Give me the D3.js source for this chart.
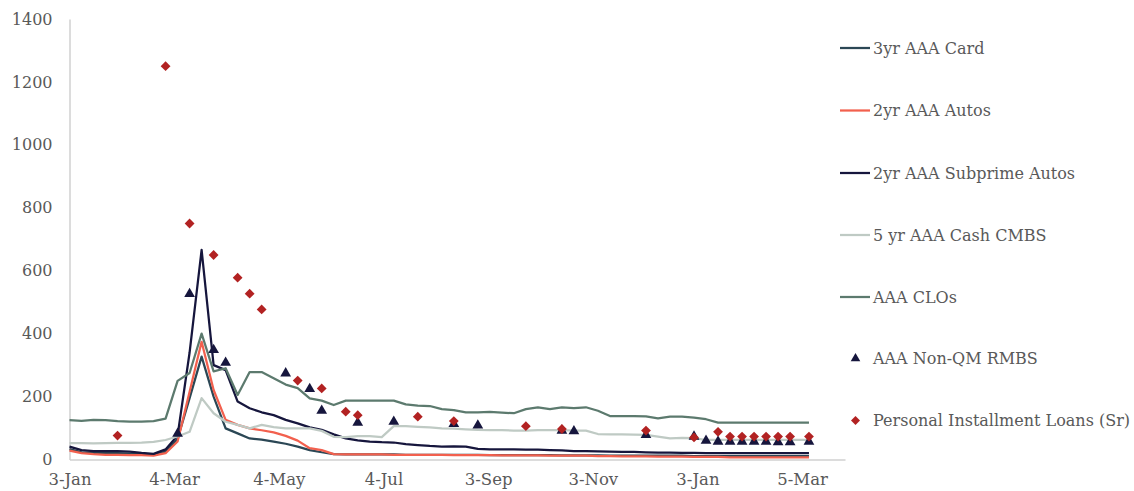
<!DOCTYPE html>
<html>
<head>
<meta charset="utf-8">
<script src="https://cdn.jsdelivr.net/npm/d3@7"></script>
<style>
  body { margin: 0; background: #fff; }
  text { font-family: 'DejaVu Serif', Georgia, serif; fill: #595959; }
</style>
</head>
<body>
<div id="chart"></div>
<script>
// weekly observation dates for the line series
var lineDates = [
  '2020-01-03', '2020-01-10', '2020-01-17', '2020-01-24', '2020-01-31', '2020-02-07',
  '2020-02-14', '2020-02-21', '2020-02-28', '2020-03-06', '2020-03-13', '2020-03-20',
  '2020-03-27', '2020-04-03', '2020-04-10', '2020-04-17', '2020-04-24', '2020-05-01',
  '2020-05-08', '2020-05-15', '2020-05-22', '2020-05-29', '2020-06-05', '2020-06-12',
  '2020-06-19', '2020-06-26', '2020-07-03', '2020-07-10', '2020-07-17', '2020-07-24',
  '2020-07-31', '2020-08-07', '2020-08-14', '2020-08-21', '2020-08-28', '2020-09-04',
  '2020-09-11', '2020-09-18', '2020-09-25', '2020-10-02', '2020-10-09', '2020-10-16',
  '2020-10-23', '2020-10-30', '2020-11-06', '2020-11-13', '2020-11-20', '2020-11-27',
  '2020-12-04', '2020-12-11', '2020-12-18', '2020-12-25', '2021-01-01', '2021-01-08',
  '2021-01-15', '2021-01-22', '2021-01-29', '2021-02-05', '2021-02-12', '2021-02-19',
  '2021-02-26', '2021-03-09'
];

var card3yr = [
  33, 23, 21, 20, 20, 19, 18, 15, 25, 65, 195, 327, 200, 99, 83, 67, 63, 57, 50, 41,
  30, 23, 17, 16, 16, 16, 16, 16, 15, 15, 15, 15, 15, 15, 15, 14, 14, 14, 14, 14,
  14, 13, 13, 13, 13, 12, 12, 12, 12, 12, 12, 12, 11, 11, 11, 11, 11, 11, 11, 11,
  11, 11
];
var autos2yr = [
  28, 20, 17, 15, 15, 14, 14, 12, 20, 57, 215, 374, 221, 126, 110, 99, 93, 86, 75, 60,
  36, 30, 17, 16, 16, 16, 16, 15, 15, 15, 15, 15, 14, 14, 14, 14, 13, 13, 13, 13,
  12, 12, 12, 12, 11, 11, 10, 10, 10, 9, 9, 9, 8, 8, 8, 7, 7, 7, 7, 7,
  7, 7
];
var subprime2yr = [
  41, 30, 27, 27, 27, 25, 21, 18, 32, 76, 340, 666, 300, 284, 184, 163, 150, 141, 126, 115,
  102, 94, 80, 67, 61, 57, 55, 54, 49, 46, 43, 41, 42, 41, 34, 32, 32, 32, 31, 31,
  30, 29, 27, 27, 26, 25, 24, 24, 23, 22, 22, 21, 21, 20, 20, 20, 20, 20, 20, 20,
  20, 20
];
var cmbs5yr = [
  52, 52, 51, 52, 53, 53, 54, 56, 62, 73, 88, 195, 147, 120, 110, 99, 110, 103, 99, 99,
  99, 91, 72, 71, 74, 74, 71, 106, 106, 104, 102, 99, 98, 96, 94, 93, 93, 92, 92, 93,
  93, 93, 92, 92, 81, 80, 80, 79, 78, 73, 67, 69, 68, 62, 62, 62, 62, 62, 62, 62,
  62, 62
];
var clos = [
  125, 123, 126, 125, 122, 120, 120, 122, 130, 250, 275, 400, 280, 290, 205, 278, 278, 258, 238, 227,
  194, 187, 173, 187, 187, 187, 187, 187, 175, 171, 170, 160, 157, 150, 150, 151, 149, 147, 160, 166,
  160, 166, 163, 166, 155, 138, 138, 138, 137, 131, 136, 136, 133, 128, 117, 117, 117, 117, 117, 117,
  117, 117
];

// scatter series, own dates
var nonQmDates = [
  '2020-03-06', '2020-03-13', '2020-03-27', '2020-04-03', '2020-05-08', '2020-05-22',
  '2020-05-29', '2020-06-19', '2020-07-10', '2020-08-14', '2020-08-28', '2020-10-16',
  '2020-10-23', '2020-12-04', '2021-01-01', '2021-01-08', '2021-01-15', '2021-01-22',
  '2021-01-29', '2021-02-05', '2021-02-12', '2021-02-19', '2021-02-26', '2021-03-09'
];
var nonQmValues = [
  82, 526, 348, 308, 274, 224, 155, 117, 120, 113, 108, 92,
  90, 78, 73, 60, 57, 57, 57, 57, 57, 55, 55, 57
];
var pilDates = [
  '2020-01-31', '2020-02-28', '2020-03-13', '2020-03-27', '2020-04-10', '2020-04-17',
  '2020-04-24', '2020-05-15', '2020-05-29', '2020-06-12', '2020-06-19', '2020-07-24',
  '2020-08-14', '2020-09-25', '2020-10-16', '2020-12-04', '2021-01-01', '2021-01-15',
  '2021-01-22', '2021-01-29', '2021-02-05', '2021-02-12', '2021-02-19', '2021-02-26',
  '2021-03-09'
];
var pilValues = [
  76, 1250, 750, 650, 578, 527, 477, 251, 226, 152, 141, 136,
  122, 106, 97, 92, 70, 88, 73, 73, 73, 73, 73, 73, 73
];

var xTickDates = ['2020-01-03', '2020-03-04', '2020-05-04', '2020-07-04',
  '2020-09-03', '2020-11-03', '2021-01-03', '2021-03-05'];
var yTicks = [0, 200, 400, 600, 800, 1000, 1200, 1400];

var lineSeries = [
  { name: '3yr AAA Card', values: card3yr, color: '#2b4755' },
  { name: '2yr AAA Autos', values: autos2yr, color: '#f2604e' },
  { name: '2yr AAA Subprime Autos', values: subprime2yr, color: '#16163d' },
  { name: '5 yr  AAA Cash CMBS', values: cmbs5yr, color: '#bfcac4' },
  { name: 'AAA CLOs', values: clos, color: '#5c7a6e' }
];

var width = 1134,
  height = 491,
  margin = { top: 19, left: 69.5, bottom: 459.5, right: 845 };

var parse = d3.utcParse('%Y-%m-%d');

var svg = d3.select('#chart').append('svg')
  .attr('width', width)
  .attr('height', height);

var x = d3.scaleUtc()
  .domain([parse('2020-01-03'), parse('2021-03-30')])
  .range([margin.left, margin.right]);

var y = d3.scaleLinear()
  .domain([0, 1400])
  .range([margin.bottom, margin.top]);

// axes (Excel style: plain gray lines, no ticks)
var xAxis = d3.axisBottom(x)
  .tickValues(xTickDates.map(parse))
  .tickFormat(d3.utcFormat('%-d-%b'))
  .tickSize(0)
  .tickPadding(14);

svg.append('g')
  .attr('transform', 'translate(0,' + margin.bottom + ')')
  .call(xAxis)
  .call(function (g) {
    g.select('.domain').attr('stroke', '#d0d0d0').attr('stroke-width', 1.5);
    g.selectAll('text').style('font-size', '16.5px').attr('fill', '#595959');
  });

var yAxis = d3.axisLeft(y)
  .tickValues(yTicks)
  .tickFormat(d3.format('d'))
  .tickSize(0)
  .tickPadding(17);

svg.append('g')
  .attr('transform', 'translate(' + margin.left + ',0)')
  .call(yAxis)
  .call(function (g) {
    g.select('.domain').attr('stroke', '#d0d0d0').attr('stroke-width', 1.5);
    g.selectAll('text').style('font-size', '16px').attr('fill', '#595959');
  });

var line = d3.line()
  .x(function (d) { return x(d.date); })
  .y(function (d) { return y(d.value); });

lineSeries.forEach(function (s) {
  var pts = s.values.map(function (v, i) {
    return { date: parse(lineDates[i]), value: v };
  });
  svg.append('path')
    .datum(pts)
    .attr('d', line)
    .attr('fill', 'none')
    .attr('stroke', s.color)
    .attr('stroke-width', 2.25)
    .attr('stroke-linejoin', 'round');
});

var triangle = d3.symbol().type(d3.symbolTriangle).size(50);
var diamond = d3.symbol().type(d3.symbolSquare).size(48);

svg.append('g').selectAll('path')
  .data(nonQmValues)
  .enter()
  .append('path')
  .attr('d', triangle)
  .attr('fill', '#16163d')
  .attr('transform', function (d, i) {
    return 'translate(' + x(parse(nonQmDates[i])) + ',' + y(d) + ')';
  });

svg.append('g').selectAll('path')
  .data(pilValues)
  .enter()
  .append('path')
  .attr('d', diamond)
  .attr('fill', '#b22222')
  .attr('transform', function (d, i) {
    return 'translate(' + x(parse(pilDates[i])) + ',' + y(d) + ') rotate(45)';
  });

// legend
var legend = svg.append('g');
var rowY = [48, 110.5, 173, 235, 297, 358.5, 420.5];

lineSeries.forEach(function (s, i) {
  legend.append('line')
    .attr('x1', 840).attr('x2', 870)
    .attr('y1', rowY[i]).attr('y2', rowY[i])
    .attr('stroke', s.color)
    .attr('stroke-width', 2.25);
  legend.append('text')
    .attr('x', 873).attr('y', rowY[i])
    .attr('dy', '0.35em')
    .style('font-size', '16px')
    .text(s.name);
});

legend.append('path')
  .attr('d', d3.symbol().type(d3.symbolTriangle).size(40))
  .attr('fill', '#16163d')
  .attr('transform', 'translate(855.5,' + rowY[5] + ')');
legend.append('text')
  .attr('x', 873).attr('y', rowY[5]).attr('dy', '0.35em')
  .style('font-size', '16px')
  .text('AAA Non-QM RMBS');

legend.append('path')
  .attr('d', d3.symbol().type(d3.symbolSquare).size(40))
  .attr('fill', '#b22222')
  .attr('transform', 'translate(855.5,' + rowY[6] + ') rotate(45)');
legend.append('text')
  .attr('x', 873).attr('y', rowY[6]).attr('dy', '0.35em')
  .style('font-size', '16px')
  .text('Personal Installment Loans (Sr)');
</script>
</body>
</html>
